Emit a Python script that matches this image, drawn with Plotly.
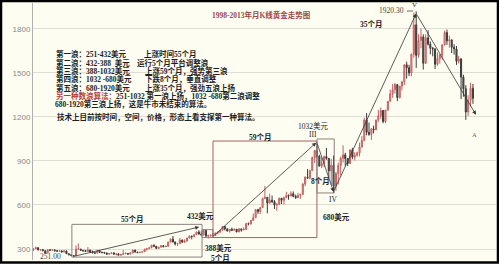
import pandas as pd
import plotly.graph_objects as go

# ---------------- data (monthly gold K-line) ----------------
start_month = "1998-03-01"
opens = [
    297, 301, 309, 294, 296, 288, 273, 293, 292, 294,
    288, 285, 287, 279, 286, 268, 261, 255, 254, 299, 299, 291,
    290, 283, 293, 278, 274, 272, 288, 277, 277, 273, 264, 269,
    274, 265, 267, 258, 263, 267, 270, 265, 273, 293, 279, 275,
    278, 282, 297, 302, 308, 326, 318, 304, 312, 323, 316, 318,
    347, 367, 347, 334, 336, 361, 346, 354, 375, 388, 386, 398,
    416, 402, 396, 427, 388, 393, 395, 391, 408, 415, 429, 453,
    438, 422, 434, 428, 435, 417, 437, 429, 433, 473, 470, 495,
    513, 568, 556, 582, 644, 653, 613, 633, 623, 599, 604, 646,
    632, 650, 665, 661, 677, 659, 650, 665, 672, 743, 789, 783,
    834, 923, 971, 933, 865, 885, 930, 918, 833, 871, 730, 814,
    869, 919, 942, 916, 883, 975, 926, 939, 955, 995, 1040, 1180,
    1096, 1081, 1119, 1113, 1180, 1208, 1244, 1169, 1247, 1307, 1358, 1386,
    1421, 1333, 1410, 1439, 1556, 1536, 1500, 1628, 1828, 1620, 1722, 1746,
    1566, 1740, 1696, 1669, 1664, 1559, 1598, 1622, 1692, 1776, 1719, 1726,
    1675, 1664, 1579, 1596, 1472, 1393, 1234, 1314, 1396,
]
highs = [
    303, 316, 310, 300, 297, 290, 300, 300, 300, 297,
    293, 291, 291, 292, 291, 270, 265, 258, 325, 338, 301, 292,
    292, 313, 294, 289, 281, 294, 292, 280, 278, 275, 270, 274,
    275, 268, 268, 265, 293, 276, 272, 277, 294, 294, 281, 281,
    285, 303, 303, 310, 327, 331, 322, 314, 326, 323, 325, 349,
    372, 389, 352, 342, 375, 365, 366, 376, 392, 389, 399, 417,
    428, 420, 432, 430, 396, 397, 409, 412, 418, 430, 455, 456,
    438, 437, 446, 438, 436, 442, 438, 448, 477, 480, 497, 542,
    573, 574, 587, 651, 730, 654, 677, 664, 633, 612, 650, 648,
    657, 690, 672, 693, 692, 671, 683, 677, 748, 796, 845, 840,
    930, 976, 1032, 942, 925, 936, 989, 920, 915, 937, 826, 889,
    930, 1007, 956, 920, 980, 990, 960, 963, 1025, 1070, 1195, 1227,
    1162, 1125, 1141, 1180, 1249, 1265, 1248, 1249, 1308, 1387, 1424, 1432,
    1424, 1411, 1447, 1557, 1577, 1556, 1632, 1913, 1920, 1764, 1803, 1764,
    1764, 1791, 1715, 1677, 1668, 1640, 1628, 1693, 1790, 1796, 1754, 1726,
    1696, 1684, 1617, 1600, 1488, 1417, 1348, 1434, 1425,
]
lows = [
    286, 300, 290, 287, 285, 272, 272, 288, 290, 283,
    283, 281, 278, 278, 267, 257, 253, 251, 253, 295, 289, 279,
    282, 282, 276, 272, 269, 271, 276, 270, 269, 263, 263, 268,
    262, 255, 257, 255, 262, 265, 263, 264, 271, 276, 272, 274,
    277, 281, 289, 300, 307, 317, 303, 302, 311, 311, 315, 317,
    346, 346, 324, 319, 336, 343, 341, 352, 371, 366, 379, 397,
    397, 391, 393, 383, 371, 383, 385, 388, 400, 411, 424, 426,
    420, 412, 424, 425, 414, 414, 418, 429, 433, 461, 467, 493,
    513, 539, 538, 580, 642, 543, 611, 613, 573, 560, 602, 607,
    603, 649, 636, 660, 653, 642, 647, 642, 672, 729, 778, 775,
    834, 887, 917, 863, 851, 858, 908, 786, 737, 681, 697, 740,
    801, 889, 866, 865, 882, 912, 903, 930, 931, 992, 1036, 1075,
    1072, 1044, 1088, 1110, 1165, 1187, 1157, 1158, 1243, 1306, 1331, 1360,
    1308, 1326, 1381, 1418, 1462, 1478, 1478, 1604, 1535, 1604, 1668, 1523,
    1563, 1687, 1627, 1613, 1527, 1549, 1564, 1589, 1687, 1692, 1672, 1636,
    1625, 1555, 1564, 1322, 1338, 1180, 1207, 1272, 1290,
]
closes = [
    301, 309, 294, 296, 288, 273, 293, 292, 294, 288,
    285, 287, 279, 286, 268, 261, 255, 254, 299, 299, 291, 290,
    283, 293, 278, 274, 272, 288, 277, 277, 273, 264, 269, 274,
    265, 267, 258, 263, 267, 270, 265, 273, 293, 279, 275, 278,
    282, 297, 302, 308, 326, 318, 304, 312, 323, 316, 318, 347,
    367, 347, 334, 336, 361, 346, 354, 375, 388, 386, 398, 416,
    402, 396, 427, 388, 393, 395, 391, 408, 415, 429, 453, 438,
    422, 434, 428, 435, 417, 437, 429, 433, 473, 470, 495, 513,
    568, 556, 582, 644, 653, 613, 633, 623, 599, 604, 646, 632,
    650, 665, 661, 677, 659, 650, 665, 672, 743, 789, 783, 834,
    923, 971, 933, 865, 885, 930, 918, 833, 871, 730, 814, 869,
    919, 942, 916, 883, 975, 926, 939, 955, 995, 1040, 1180, 1096,
    1081, 1119, 1113, 1180, 1208, 1244, 1169, 1247, 1307, 1358, 1386, 1421,
    1333, 1410, 1439, 1556, 1536, 1500, 1628, 1828, 1620, 1722, 1746, 1566,
    1740, 1696, 1669, 1664, 1559, 1598, 1622, 1692, 1776, 1719, 1726, 1675,
    1664, 1579, 1596, 1472, 1393, 1234, 1314, 1396, 1327,
]
y_ticks = [300, 600, 900, 1200, 1500, 1800]

title_text = "1998-2013年月K线黄金走势图"
wave_left = [
    "第一浪：251-432美元",
    "第二浪：432-388 \u00a0美元",
    "第三浪：388-1032美元",
    "第四浪：1032 -680美元",
    "第五浪：680-1920美元",
]
wave_right = [
    "上涨时间55个月",
    "运行5个月平台调整浪",
    "上涨59个月，强势第三浪",
    "下跌8个月，垂直调整",
    "上涨35个月，强劲五浪上扬",
]
alt_head = "另一种数浪算法："
alt_line1 = "251-1032 第一浪上扬，1032 -680第二浪调整"
alt_line2 = "680-1920第三浪上扬，这是牛市未结束的算法。"
note_line = "技术上目前按时间，空间，价格，形态上看支撑第一种算法。"

dates = pd.date_range(start_month, periods=len(closes), freq="MS")

# ---------------- figure ----------------
W, H = 499, 264
BG = "#fdfdf1"
FONT = "Liberation Serif, Noto Sans CJK SC, serif"
TXT = "#1e1e1e"


def px(x):
    return x / W


def py(y):
    return 1 - y / H


fig = go.Figure()
fig.add_trace(go.Candlestick(
    x=dates, open=opens, high=highs, low=lows, close=closes,
    increasing=dict(line=dict(color="#c46262", width=1), fillcolor="#e6a4a4"),
    decreasing=dict(line=dict(color="#3c3c3c", width=1), fillcolor="#555555"),
    showlegend=False, hoverinfo="skip",
))

shapes = []
ann = []

# outer frame
shapes.append(dict(type="rect", xref="paper", yref="paper", x0=px(1), x1=px(498), y0=py(262.5), y1=py(1),
                   line=dict(color="#000000", width=2.5), layer="above"))

BOX = "#8c8080"
RED = "#a86060"
# wave boxes (data coordinates)
shapes.append(dict(type="rect", xref="x", yref="y", x0="1999-07-10", x1="2004-02-11", y0=245, y1=468,
                   line=dict(color=BOX, width=1)))
shapes.append(dict(type="rect", xref="x", yref="y", x0="2004-02-11", x1="2004-07-01", y0=378, y1=432,
                   line=dict(color=BOX, width=1)))
shapes.append(dict(type="rect", xref="x", yref="y", x0="2004-07-01", x1="2008-03-01", y0=378, y1=1036,
                   line=dict(color=RED, width=1)))
shapes.append(dict(type="rect", xref="x", yref="y", x0="2008-03-01", x1="2008-10-10", y0=682, y1=1050,
                   line=dict(color=BOX, width=1)))


def arrow(x0, y0, x1, y1, head=2):
    ann.append(dict(x=x1, y=y1, ax=x0, ay=y0, xref="x", yref="y", axref="x", ayref="y",
                    text="", showarrow=True, arrowhead=head, arrowsize=1, arrowwidth=0.8,
                    arrowcolor="#333333"))


arrow("1999-07-10", 247, "2004-01-05", 450)
arrow("2004-07-01", 385, "2008-02-20", 1025)
arrow("2008-03-01", 1025, "2008-10-01", 690)
arrow("2008-10-01", 690, "2011-09-01", 1905)
arrow("2011-09-01", 1905, "2013-10-10", 1215)


def label(x, y, text, size=7.5, color=TXT, xanchor="center", bold=False):
    ann.append(dict(x=px(x), y=py(y), xref="paper", yref="paper", text=text, showarrow=False,
                    xanchor=xanchor, yanchor="middle",
                    font=dict(family=FONT, size=size, color=color, weight=600 if bold else 400)))


# title
label(261, 15, title_text, size=7.5, color="#a04848", bold=True)

# explanatory text block
rows_y = [54, 62.5, 71, 79, 87.5]
right_x = [142, 135, 143, 143, 143]
for t, yy in zip(wave_left, rows_y):
    label(54, yy, t, xanchor="left", bold=True)
for t, xx, yy in zip(wave_right, right_x, rows_y):
    label(xx, yy, t, xanchor="left", bold=True)
label(54, 96.5, "<span style='color:#b23c3c'>" + alt_head + "</span>" + alt_line1, xanchor="left", bold=True)
label(53, 104.5, alt_line2, xanchor="left", bold=True)
label(55, 117, note_line, xanchor="left", bold=True)

# chart labels
label(50, 256, "251.00", color="#444444")
label(132, 219, "55个月", bold=True)
label(200, 216, "432美元", bold=True)
label(218, 248, "388美元", bold=True)
label(220, 258, "5个月", bold=True)
label(260, 137, "59个月", bold=True)
label(313, 126, "1032美元")
label(313, 134, "III")
label(320, 181, "8个月", bold=True)
label(333, 199, "IV")
label(336, 217, "680美元", bold=True)
label(414, 5, "V", size=7)
label(371, 24, "35个月", bold=True)
label(406, 11, "1920.30", color="#444444", xanchor="right")
shapes.append(dict(type="line", xref="paper", yref="paper", x0=px(407), x1=px(413), y0=py(11), y1=py(11),
                   line=dict(color="#444444", width=0.8)))
label(474, 134, "A", size=6.5, color="#666666")

fig.update_layout(
    width=W, height=H,
    margin=dict(l=0, r=0, t=0, b=0),
    paper_bgcolor=BG, plot_bgcolor=BG,
    shapes=shapes, annotations=ann,
    showlegend=False,
)
fig.update_xaxes(
    domain=[px(33), px(496)], range=["1998-02-24", "2014-06-25"],
    rangeslider=dict(visible=False), showticklabels=False, showgrid=False,
    zeroline=False, showline=False, ticks="",
)
fig.update_yaxes(
    domain=[py(260), py(3)], range=[225, 1977],
    tickvals=y_ticks, ticktext=[str(v) for v in y_ticks],
    tickfont=dict(family="Liberation Sans, sans-serif", size=8, color="#8a8a8a"),
    showgrid=True, gridcolor="#deded4", gridwidth=1,
    showline=True, linecolor="#b0b0b0", linewidth=1, zeroline=False, ticks="",
)

fig.write_html("out.html")
